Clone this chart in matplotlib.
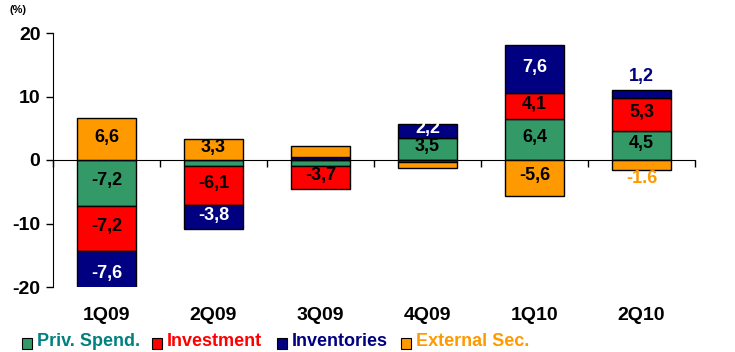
import matplotlib
matplotlib.use("Agg")
import matplotlib.pyplot as plt
import matplotlib.transforms as mtransforms
from matplotlib.font_manager import findfont, FontProperties

# data (percent contributions by quarter)
quarters = ["1Q09", "2Q09", "3Q09", "4Q09", "1Q10", "2Q10"]
priv_spend = [-7.2, -1.0, -0.9, 3.5, 6.4, 4.5]
investment = [-7.2, -6.1, -3.7, -0.3, 4.1, 5.3]
inventories = [-7.6, -3.8, 0.5, 2.2, 7.6, 1.2]
external = [6.6, 3.3, 1.7, -0.9, -5.6, -1.6]

series_names = ["Priv. Spend.", "Investment", "Inventories", "External Sec."]
series_values = [priv_spend, investment, inventories, external]

# labels shown on the chart (None = no label)
priv_labels = ["-7,2", None, None, "3,5", "6,4", "4,5"]
invest_labels = ["-7,2", "-6,1", "-3,7", None, "4,1", "5,3"]
invent_labels = ["-7,6", "-3,8", None, "2,2", "7,6", "1,2"]
extern_labels = ["6,6", "3,3", None, None, "-5,6", "-1.6"]
series_labels = [priv_labels, invest_labels, invent_labels, extern_labels]

bar_colors = ["#339966", "#FF0000", "#000080", "#FF9900"]
legend_text_colors = ["#008080", "#FF0000", "#000080", "#FF9900"]
label_colors = ["black", "black", "white", "black"]

# pick a narrow font if one is installed
narrow = None
for cand in ["Liberation Sans Narrow", "DejaVu Sans Condensed"]:
    try:
        findfont(FontProperties(family=cand), fallback_to_default=False)
        narrow = cand
        break
    except Exception:
        pass
fam = ([narrow] if narrow else []) + ["Liberation Sans", "DejaVu Sans"]
plt.rcParams["font.family"] = fam
plt.rcParams["font.weight"] = "bold"

fig = plt.figure(figsize=(7.35, 3.52), dpi=100)
ax = fig.add_axes([53 / 735, 1 - 287 / 352, 642 / 735, 254 / 352])

x = list(range(len(quarters)))
width = 0.55
pos_base = [0.0] * len(quarters)
neg_base = [0.0] * len(quarters)

for k, vals in enumerate(series_values):
    bottoms = []
    for i, v in enumerate(vals):
        if v >= 0:
            bottoms.append(pos_base[i])
            pos_base[i] += v
        else:
            bottoms.append(neg_base[i])
            neg_base[i] += v
    ax.bar(x, vals, width, bottom=bottoms, color=bar_colors[k],
           edgecolor="black", linewidth=1.0, zorder=2)
    for i, v in enumerate(vals):
        lab = series_labels[k][i]
        if lab is None:
            continue
        center = bottoms[i] + v / 2
        color = label_colors[k]
        if abs(v) < 2.0:
            # small segments: label outside the bar
            if v > 0:
                center = pos_base[i] + 1.8
            else:
                center = neg_base[i] - 1.6
            color = bar_colors[k]
        ax.text(i, center + 0.3, lab, ha="center", va="center",
                fontsize=13, color=color, fontweight="bold", zorder=4)

ax.set_xlim(-0.5, len(quarters) - 0.5)
ax.set_ylim(-20, 20)
ax.set_yticks([-20, -10, 0, 10, 20])
ax.set_yticklabels(["-20", "-10", "0", "10", "20"], fontsize=14, fontweight="bold")
ax.tick_params(axis="y", direction="out", length=5, width=1, pad=4)

ax.spines["top"].set_visible(False)
ax.spines["right"].set_visible(False)
ax.spines["bottom"].set_position(("data", 0))
ax.spines["bottom"].set_zorder(3)
ax.set_xticks([i + 0.5 for i in range(-1, len(quarters))])
ax.set_xticklabels([])
ax.tick_params(axis="x", direction="out", length=5, width=1)

trans = mtransforms.blended_transform_factory(ax.transData, fig.transFigure)
for i, q in enumerate(quarters):
    ax.text(i, 1 - 315 / 352, q, transform=trans, ha="center", va="center",
            fontsize=14, fontweight="bold", color="black")

fig.text(10 / 735, 1 - 10 / 352, "(%)", fontsize=8, fontweight="bold",
         ha="left", va="center")

# legend row
leg_x = [27, 157, 282, 406]
leg_size = 14 if narrow else 13
for k, name in enumerate(series_names):
    xs = leg_x[k] / 735
    fig.patches.append(plt.Rectangle((xs - 5 / 735, 1 - 349 / 352), 10 / 735, 11 / 352,
                                     transform=fig.transFigure, facecolor=bar_colors[k],
                                     edgecolor="black", linewidth=0.8))
    fig.text(xs + 10 / 735, 1 - 341 / 352, name, color=legend_text_colors[k],
             fontsize=leg_size, fontweight="bold", ha="left", va="center")

fig.savefig("out.png", dpi=100)
